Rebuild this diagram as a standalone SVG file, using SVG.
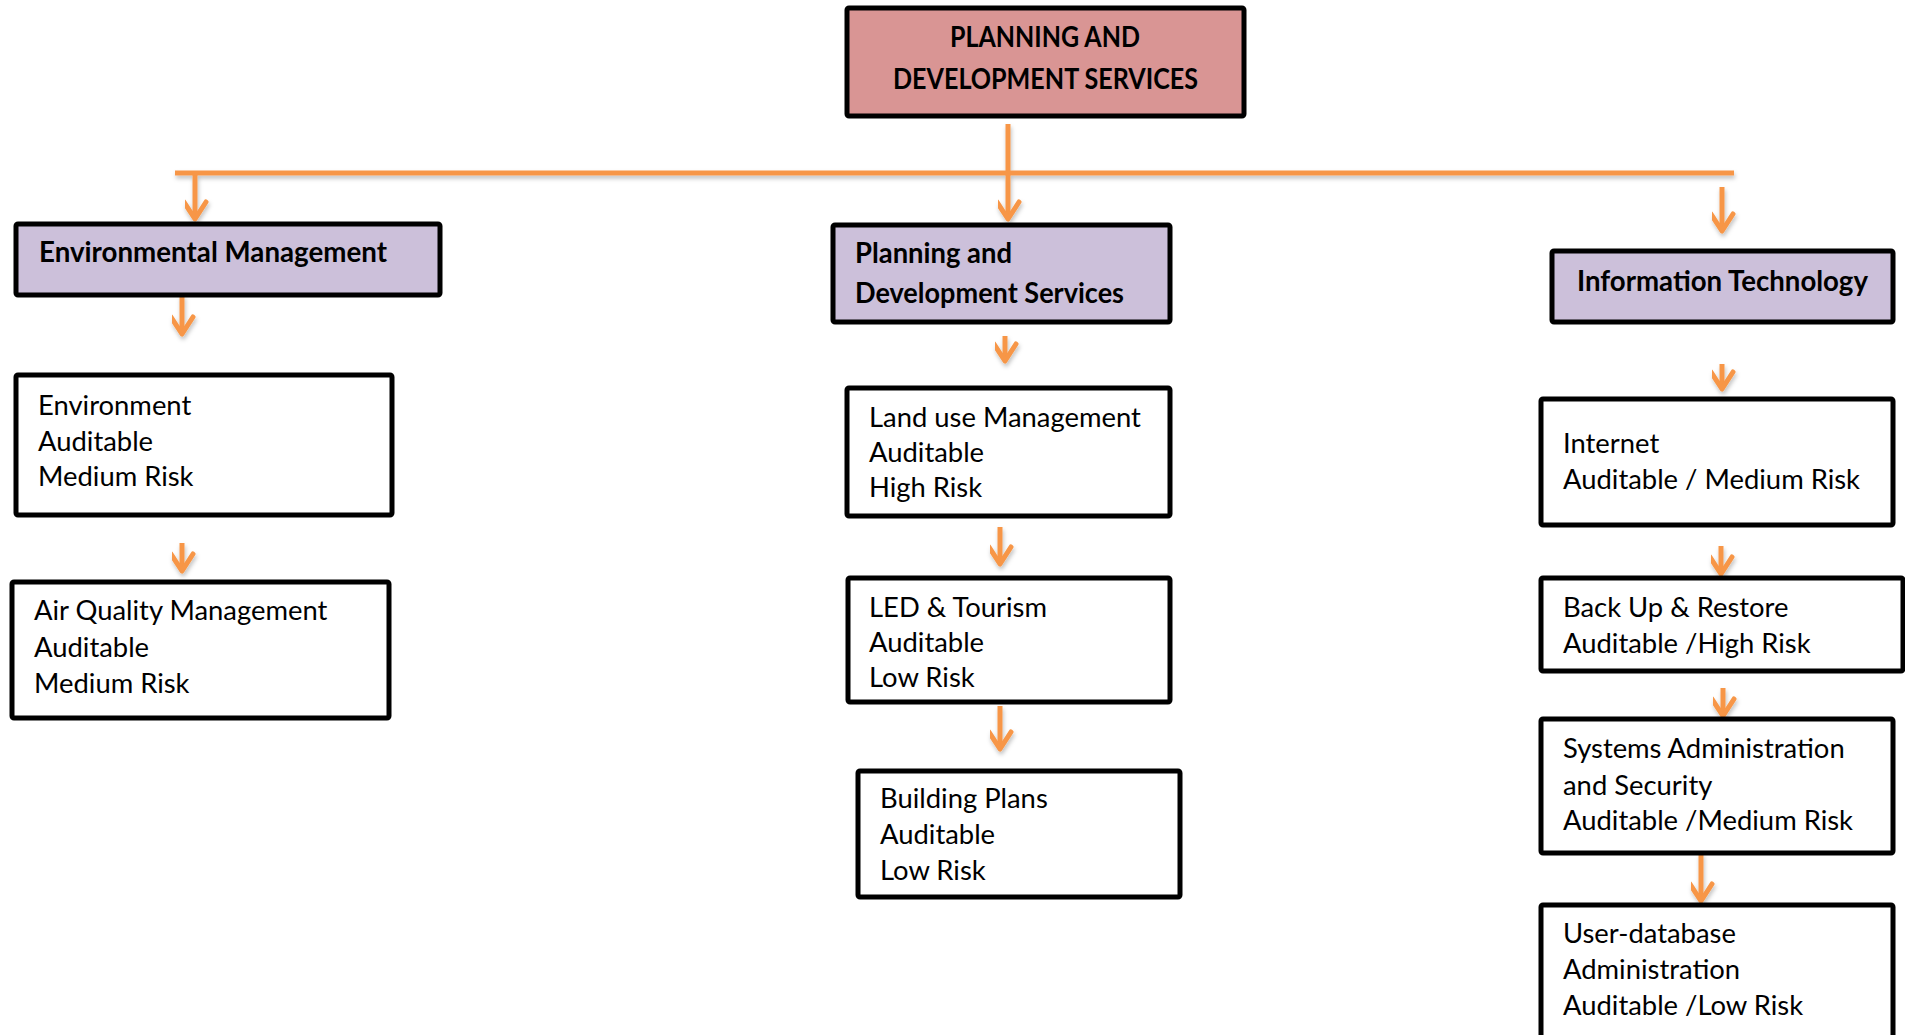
<svg xmlns="http://www.w3.org/2000/svg" width="1905" height="1035" viewBox="0 0 1905 1035">
<style>
.box{stroke:#000;stroke-width:5;}
.root{fill:#d99594;}
.head{fill:#ccc0da;}
.leaf{fill:#fff;}
text{font-family:Lato,"Open Sans","Liberation Sans",sans-serif;font-size:27.4px;fill:#000;}
.b{font-weight:bold;font-size:28px;}
.conn{stroke:#f79646;stroke-width:5;fill:none;}
</style>
<defs>
<marker id="chev" markerUnits="userSpaceOnUse" markerWidth="40" markerHeight="40" viewBox="-20 -30 40 40" refX="0" refY="0" orient="auto-start-reverse">
<polyline points="-17,-11 0,0 -17,11" fill="none" stroke="#f79646" stroke-width="5" stroke-linecap="round" stroke-linejoin="round"/>
</marker>
<filter id="sh" x="-10%" y="-10%" width="130%" height="130%">
<feDropShadow dx="1" dy="3" stdDeviation="2" flood-color="#000" flood-opacity="0.25"/>
</filter>
</defs>
<rect width="1905" height="1035" fill="#fff"/>
<g id="connectors" filter="url(#sh)">
<line class="conn" x1="175" y1="173" x2="1734" y2="173"/>
<line class="conn" x1="1008" y1="124" x2="1008" y2="219" marker-end="url(#chev)"/>
<line class="conn" x1="195" y1="173" x2="195" y2="219" marker-end="url(#chev)"/>
<line class="conn" x1="1722" y1="187" x2="1722" y2="231" marker-end="url(#chev)"/>
<line class="conn" x1="182" y1="295" x2="182" y2="334" marker-end="url(#chev)"/>
<line class="conn" x1="182" y1="543" x2="182" y2="571" marker-end="url(#chev)"/>
<line class="conn" x1="1005" y1="336" x2="1005" y2="361" marker-end="url(#chev)"/>
<line class="conn" x1="1000" y1="527" x2="1000" y2="564" marker-end="url(#chev)"/>
<line class="conn" x1="1000" y1="706" x2="1000" y2="749" marker-end="url(#chev)"/>
<line class="conn" x1="1722" y1="364" x2="1722" y2="389" marker-end="url(#chev)"/>
<line class="conn" x1="1721" y1="546" x2="1721" y2="574" marker-end="url(#chev)"/>
<line class="conn" x1="1723" y1="688" x2="1723" y2="716" marker-end="url(#chev)"/>
<line class="conn" x1="1701" y1="853" x2="1701" y2="901" marker-end="url(#chev)"/>
</g>
<g id="root">
<rect class="box root" x="847" y="8" width="397" height="108" rx="2"/>
<text class="b" x="950" y="47" textLength="190" lengthAdjust="spacingAndGlyphs">PLANNING AND</text>
<text class="b" x="893" y="89" textLength="305" lengthAdjust="spacingAndGlyphs">DEVELOPMENT SERVICES</text>
</g>
<g id="env-mgmt">
<rect class="box head" x="16" y="224" width="424" height="71" rx="2"/>
<text class="b" x="39" y="262" textLength="348" lengthAdjust="spacingAndGlyphs">Environmental Management</text>
</g>
<g id="pds">
<rect class="box head" x="833" y="225" width="337" height="97" rx="2"/>
<text class="b" x="855" y="263" textLength="157" lengthAdjust="spacingAndGlyphs">Planning and</text>
<text class="b" x="855" y="303" textLength="269" lengthAdjust="spacingAndGlyphs">Development Services</text>
</g>
<g id="it">
<rect class="box head" x="1552" y="251" width="341" height="71" rx="2"/>
<text class="b" x="1577" y="291" textLength="291" lengthAdjust="spacingAndGlyphs">Information Technology</text>
</g>
<g id="environment">
<rect class="box leaf" x="16" y="375" width="376" height="140" rx="2"/>
<text x="38" y="415">Environment</text>
<text x="38" y="451">Auditable</text>
<text x="38" y="486">Medium Risk</text>
</g>
<g id="air-quality">
<rect class="box leaf" x="12" y="582" width="377" height="136" rx="2"/>
<text x="34" y="620">Air Quality Management</text>
<text x="34" y="657">Auditable</text>
<text x="34" y="693">Medium Risk</text>
</g>
<g id="land-use">
<rect class="box leaf" x="847" y="388" width="323" height="128" rx="2"/>
<text x="869" y="427">Land use Management</text>
<text x="869" y="462">Auditable</text>
<text x="869" y="497">High Risk</text>
</g>
<g id="led">
<rect class="box leaf" x="848" y="578" width="322" height="124" rx="2"/>
<text x="869" y="617">LED &amp; Tourism</text>
<text x="869" y="652">Auditable</text>
<text x="869" y="687">Low Risk</text>
</g>
<g id="building">
<rect class="box leaf" x="858" y="771" width="322" height="126" rx="2"/>
<text x="880" y="808">Building Plans</text>
<text x="880" y="844">Auditable</text>
<text x="880" y="880">Low Risk</text>
</g>
<g id="internet">
<rect class="box leaf" x="1541" y="399" width="352" height="126" rx="2"/>
<text x="1563" y="453">Internet</text>
<text x="1563" y="489">Auditable / Medium Risk</text>
</g>
<g id="backup">
<rect class="box leaf" x="1541" y="578" width="362" height="93" rx="2"/>
<text x="1563" y="617">Back Up &amp; Restore</text>
<text x="1563" y="653">Auditable /High Risk</text>
</g>
<g id="sysadmin">
<rect class="box leaf" x="1541" y="719" width="352" height="134" rx="2"/>
<text x="1563" y="758">Systems Administration</text>
<text x="1563" y="795">and Security</text>
<text x="1563" y="830">Auditable /Medium Risk</text>
</g>
<g id="userdb">
<rect class="box leaf" x="1541" y="905" width="352" height="140" rx="2"/>
<text x="1563" y="943">User-database</text>
<text x="1563" y="979">Administration</text>
<text x="1563" y="1015">Auditable /Low Risk</text>
</g>
</svg>
